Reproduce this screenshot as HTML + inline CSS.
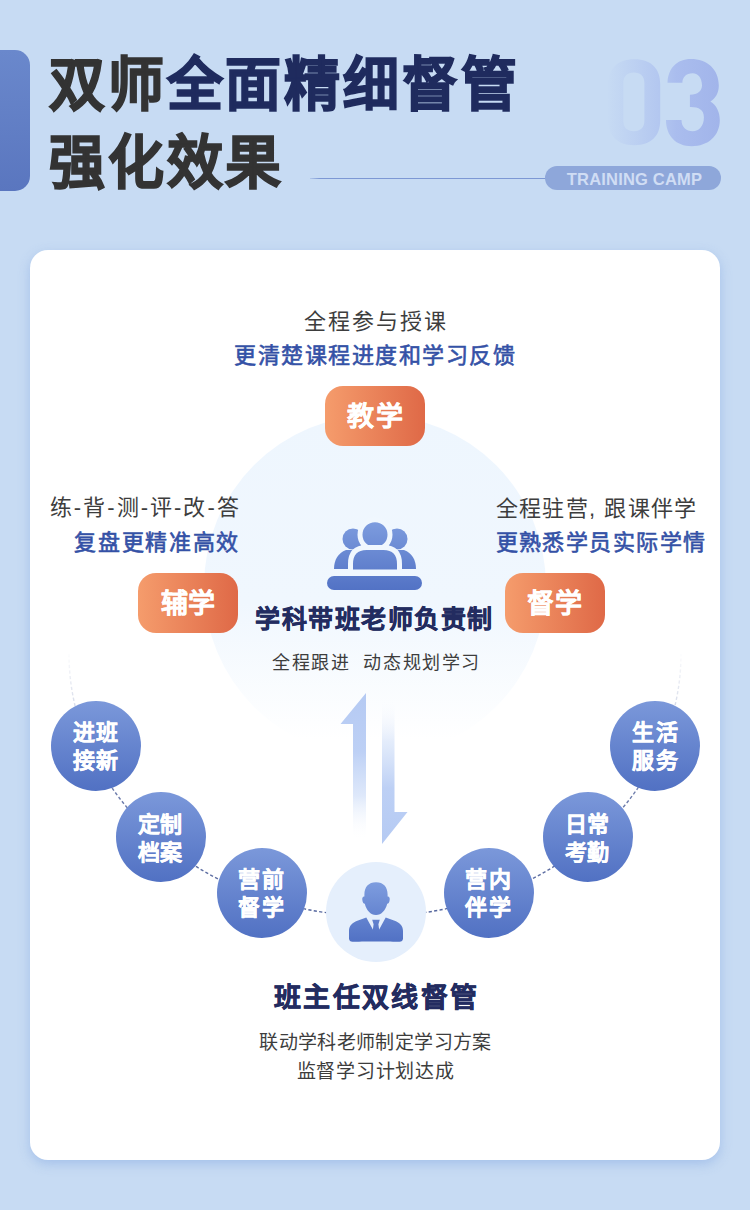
<!DOCTYPE html>
<html lang="zh-CN"><head><meta charset="utf-8">
<style>
*{margin:0;padding:0;box-sizing:border-box}
html,body{width:750px;height:1210px;overflow:hidden}
body{background:#c7dbf3;font-family:"Liberation Sans",sans-serif;position:relative}
.a{position:absolute}
.nw{white-space:nowrap}
.bar{left:0;top:50px;width:30px;height:141px;border-radius:0 15px 15px 0;background:linear-gradient(180deg,#6a88cc,#5a76bf)}
.t{left:49px;font-size:58.5px;font-weight:700;line-height:80px;letter-spacing:2.6px;color:#333;white-space:nowrap;-webkit-text-stroke:1.6px #333;transform:scaleX(0.955);transform-origin:0 0}
.t span{color:#1f2b5e;-webkit-text-stroke:1.6px #1f2b5e}
.line{left:310px;top:178px;width:240px;height:1.4px;background:linear-gradient(90deg,rgba(125,152,212,0.3),#7d98d4 4%)}
.pill{left:545px;top:166px;width:176px;height:24px;border-radius:12px;background:#8ea7da;color:#d0ddf4;font-size:16.5px;font-weight:700;line-height:26px;text-align:center;letter-spacing:0.2px;padding-left:3px}
.card{left:30px;top:250px;width:690px;height:910px;border-radius:18px;background:#fff;box-shadow:0 4px 12px rgba(125,162,225,0.45)}
.op{width:100px;height:60px;border-radius:18px;background:linear-gradient(90deg,#f59c6c,#df6947)}
.bc{width:90px;height:90px;border-radius:50%;background:linear-gradient(180deg,#7b98da,#5171c3)}
</style></head><body>
<div class="a bar"></div>
<div class="a t" style="top:45px">双师<span>全面精细督管</span></div>
<div class="a t" style="top:123px">强化效果</div>
<svg class="a" style="left:600px;top:50px" width="130" height="105" viewBox="0 0 130 105">
  <defs><linearGradient id="g03" x1="9" y1="0" x2="121" y2="0" gradientUnits="userSpaceOnUse"><stop offset="0" stop-color="#c6daf3"/><stop offset="0.45" stop-color="#b3c7f0"/><stop offset="0.6" stop-color="#aabdee"/><stop offset="1" stop-color="#a1b4ea"/></linearGradient></defs>
  <g fill="url(#g03)" fill-rule="evenodd">
    <path d="M8.4 34 C8.4 19 17 9.3 34.3 9.3 C51.6 9.3 60.2 19 60.2 34 V70.5 C60.2 85.5 51.6 95.2 34.3 95.2 C17 95.2 8.4 85.5 8.4 70.5 Z M23.3 33 C23.3 26 27 22.4 33.85 22.4 C40.7 22.4 44.4 26 44.4 33 V70.6 C44.4 77.6 40.7 81.2 33.85 81.2 C27 81.2 23.3 77.6 23.3 70.6 Z"/>
    <path d="M67.5 32.7 C68 18 77 8.9 90.8 8.9 C107 8.9 118.8 19 118.8 35.5 C118.8 43 115.5 48.5 110.4 51.4 C116.5 55 119.8 62 119.8 70 C119.8 86 108 96.2 91.7 96.2 C76 96.2 66 86 66 70 L81.5 70 C81.5 77 86 81.2 92.7 81.2 C99 81.2 103.9 76 103.9 67.2 C103.9 60 99 57 90.8 57 L89.9 57 L89.9 44.8 C98 44.8 102 40.5 102 35.5 C102 27.5 97.5 23.3 92.7 23.3 C86 23.3 82.4 27.5 82.4 32.7 Z"/>
  </g>
</svg>
<div class="a line"></div>
<div class="a pill">TRAINING CAMP</div>
<div class="a card"></div>

<!-- light circle -->
<div class="a" style="left:204px;top:415px;width:342px;height:342px;border-radius:50%;background:linear-gradient(180deg,#eef6fe 0%,#f0f7fe 55%,rgba(255,255,255,0) 95%)"></div>

<!-- dashed ellipse -->
<svg class="a" style="left:0;top:0" width="750" height="1210">
  <defs>
    <linearGradient id="dg" x1="0" y1="650" x2="0" y2="916" gradientUnits="userSpaceOnUse">
      <stop offset="0" stop-color="#5b6fa8" stop-opacity="0"/>
      <stop offset="0.26" stop-color="#5b6fa8" stop-opacity="0.3"/>
      <stop offset="0.53" stop-color="#56679e" stop-opacity="0.85"/>
      <stop offset="1" stop-color="#56679e" stop-opacity="1"/>
    </linearGradient>
  </defs>
  <path d="M69 654 A306 262 0 0 0 681 654" fill="none" stroke="url(#dg)" stroke-width="1.4" stroke-dasharray="3.2 2.3"/>
</svg>

<div class="a op" style="left:325px;top:386px"></div>
<div class="a op" style="left:138px;top:573px"></div>
<div class="a op" style="left:505px;top:573px"></div>

<!-- group icon -->
<svg class="a" style="left:320px;top:515px" width="110" height="80" viewBox="320 515 110 80">
  <defs><linearGradient id="gi" x1="0" y1="520" x2="0" y2="592" gradientUnits="userSpaceOnUse"><stop offset="0" stop-color="#7e9ddf"/><stop offset="1" stop-color="#5171c4"/></linearGradient></defs>
  <g fill="url(#gi)">
    <circle cx="353" cy="539" r="10.5"/>
    <circle cx="397" cy="539" r="10.5"/>
    <path d="M334 569 C334 560 338 553 346 550 L358 550 L358 569 Z"/>
    <path d="M416 569 C416 560 412 553 404 550 L392 550 L392 569 Z"/>
  </g>
  <g fill="url(#gi)" stroke="#f0f7fe" stroke-width="5">
    <circle cx="375" cy="534.7" r="15"/>
    <path d="M350.5 572 V564 Q350.5 547.5 366.5 547.5 H383.5 Q399.5 547.5 399.5 564 V572 Z"/>
  </g>
  <rect x="327" y="576" width="95" height="14" rx="7" fill="url(#gi)"/>
</svg>

<!-- arrows -->
<svg class="a" style="left:330px;top:685px" width="90" height="165" viewBox="330 685 90 165">
  <defs>
    <linearGradient id="au" x1="0" y1="693" x2="0" y2="840" gradientUnits="userSpaceOnUse"><stop offset="0" stop-color="#b5caf3"/><stop offset="0.4" stop-color="#bdd0f5"/><stop offset="0.7" stop-color="#c8d9f7" stop-opacity="0.6"/><stop offset="1" stop-color="#ffffff" stop-opacity="0"/></linearGradient>
    <linearGradient id="ad" x1="0" y1="697" x2="0" y2="844" gradientUnits="userSpaceOnUse"><stop offset="0" stop-color="#ffffff" stop-opacity="0"/><stop offset="0.3" stop-color="#c8d9f7" stop-opacity="0.5"/><stop offset="0.62" stop-color="#bdd0f5"/><stop offset="1" stop-color="#b5caf3"/></linearGradient>
  </defs>
  <path d="M366 693 L366 838 L353 838 L353 724 L340.5 724 Z" fill="url(#au)"/>
  <path d="M382 697 L394.5 697 L394.5 812 L407.5 812 L382 844 Z" fill="url(#ad)"/>
</svg>

<!-- blue circles -->
<div class="a bc" style="left:50.5px;top:701px"></div>
<div class="a bc" style="left:116px;top:792px"></div>
<div class="a bc" style="left:216.5px;top:848px"></div>
<div class="a bc" style="left:443.5px;top:848px"></div>
<div class="a bc" style="left:543px;top:792px"></div>
<div class="a bc" style="left:609.5px;top:701px"></div>

<!-- person circle -->
<div class="a" style="left:325.5px;top:862px;width:100px;height:100px;border-radius:50%;background:#e5effc"></div>
<svg class="a" style="left:340px;top:875px" width="70" height="75" viewBox="340 875 70 75">
  <defs><linearGradient id="gp" x1="0" y1="882" x2="0" y2="942" gradientUnits="userSpaceOnUse"><stop offset="0" stop-color="#7e9ddf"/><stop offset="1" stop-color="#5171c4"/></linearGradient></defs>
  <g fill="url(#gp)">
    <path d="M376 882.3 C383.5 882.3 387.6 887 387.6 894.5 V896.5 C389 896.2 390 897.5 389.7 899.8 C389.4 902.2 388.6 903.8 387.2 903.8 C385.5 910.5 381.5 915 376 915 C370.5 915 366.5 910.5 364.8 903.8 C363.4 903.8 362.6 902.2 362.3 899.8 C362 897.5 363 896.2 364.4 896.5 V894.5 C364.4 887 368.5 882.3 376 882.3 Z"/>
    <path d="M349 938.5 V931 C349 925.5 352.5 922.5 358 920.5 L366.3 917.6 L376 935.2 L385.7 917.6 L394 920.5 C399.5 922.5 403 925.5 403 931 V938.5 C403 940.5 401.5 941.8 399.5 941.8 C392 941.3 360 941.3 352.5 941.8 C350.5 941.8 349 940.5 349 938.5 Z"/>
    <path d="M372.2 919.8 H379.8 L378.4 924.2 L379.5 932.3 L376 936.6 L372.5 932.3 L373.6 924.2 Z"/>
  </g>
</svg>

<div class="a nw" style="left:303.8px;top:305.85px;font-size:22px;font-weight:400;line-height:31px;letter-spacing:2.12px;color:#3d3d3d;">全程参与授课</div>
<div class="a nw" style="left:234.4px;top:340.0px;font-size:22px;font-weight:400;line-height:31px;letter-spacing:1.49px;color:#3451a6;-webkit-text-stroke:0.6px #3451a6;">更清楚课程进度和学习反馈</div>
<div class="a nw" style="left:49.8px;top:492.45px;font-size:22px;font-weight:400;line-height:31px;letter-spacing:2.04px;color:#3d3d3d;">练-背-测-评-改-答</div>
<div class="a nw" style="left:74.3px;top:526.85px;font-size:22px;font-weight:400;line-height:31px;letter-spacing:1.67px;color:#3451a6;-webkit-text-stroke:0.6px #3451a6;">复盘更精准高效</div>
<div class="a nw" style="left:495.5px;top:492.65px;font-size:22px;font-weight:400;line-height:31px;letter-spacing:1.4px;color:#3d3d3d;">全程驻营, 跟课伴学</div>
<div class="a nw" style="left:495.65px;top:527.1px;font-size:22px;font-weight:400;line-height:31px;letter-spacing:1.41px;color:#3451a6;-webkit-text-stroke:0.6px #3451a6;">更熟悉学员实际学情</div>
<div class="a nw" style="left:255.35px;top:601.5px;font-size:25px;font-weight:700;line-height:35px;letter-spacing:1.46px;color:#232c60;-webkit-text-stroke:0.5px #232c60;">学科带班老师负责制</div>
<div class="a nw" style="left:272.05px;top:650.9px;font-size:18px;font-weight:400;line-height:25px;letter-spacing:1.57px;color:#3d3d3d;">全程跟进&nbsp;&nbsp;动态规划学习</div>
<div class="a nw" style="left:273.75px;top:978.8px;font-size:27px;font-weight:700;line-height:38px;letter-spacing:2.42px;color:#232c60;-webkit-text-stroke:0.6px #232c60;">班主任双线督管</div>
<div class="a nw" style="left:259.2px;top:1028.5px;font-size:19px;font-weight:400;line-height:27px;letter-spacing:0.38px;color:#3d3d3d;">联动学科老师制定学习方案</div>
<div class="a nw" style="left:296.8px;top:1058.2px;font-size:19px;font-weight:400;line-height:27px;letter-spacing:0.69px;color:#3d3d3d;">监督学习计划达成</div>
<div class="a nw" style="left:347.3px;top:398.2px;font-size:27px;font-weight:700;line-height:38px;letter-spacing:2.0px;color:#fff;-webkit-text-stroke:0.3px #fff;">教学</div>
<div class="a nw" style="left:160.65px;top:584.9px;font-size:27px;font-weight:700;line-height:38px;letter-spacing:0.7px;color:#fff;-webkit-text-stroke:0.3px #fff;">辅学</div>
<div class="a nw" style="left:526.65px;top:584.9px;font-size:27px;font-weight:700;line-height:38px;letter-spacing:1.7px;color:#fff;-webkit-text-stroke:0.3px #fff;">督学</div>
<div class="a nw" style="left:72.6px;top:719.0px;font-size:22px;font-weight:700;line-height:28px;letter-spacing:1.8px;color:#fff;-webkit-text-stroke:0.4px #fff;text-align:center;">进班<br>接新</div>
<div class="a nw" style="left:138.0px;top:810.55px;font-size:22px;font-weight:700;line-height:28px;letter-spacing:0.0px;color:#fff;-webkit-text-stroke:0.4px #fff;text-align:center;">定制<br>档案</div>
<div class="a nw" style="left:238.2px;top:866.2px;font-size:22px;font-weight:700;line-height:28px;letter-spacing:1.8px;color:#fff;-webkit-text-stroke:0.4px #fff;text-align:center;">营前<br>督学</div>
<div class="a nw" style="left:465.2px;top:866.2px;font-size:22px;font-weight:700;line-height:28px;letter-spacing:1.8px;color:#fff;-webkit-text-stroke:0.4px #fff;text-align:center;">营内<br>伴学</div>
<div class="a nw" style="left:565.0px;top:810.5px;font-size:22px;font-weight:700;line-height:28px;letter-spacing:0.0px;color:#fff;-webkit-text-stroke:0.4px #fff;text-align:center;">日常<br>考勤</div>
<div class="a nw" style="left:631.85px;top:719.25px;font-size:22px;font-weight:700;line-height:28px;letter-spacing:2.1px;color:#fff;-webkit-text-stroke:0.4px #fff;text-align:center;">生活<br>服务</div>

</body></html>
